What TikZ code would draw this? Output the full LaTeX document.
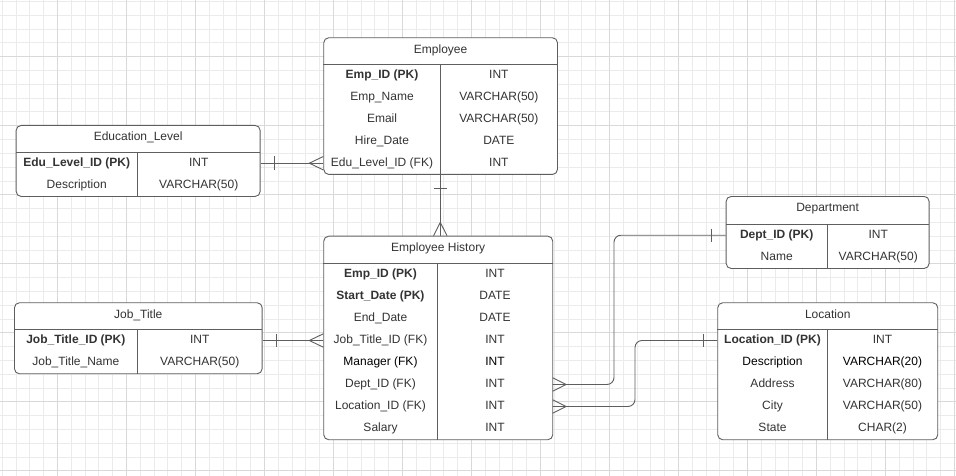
\documentclass[tikz,border=0pt]{standalone}
\usepackage{fontspec}
\setmainfont{Liberation Sans}
\usetikzlibrary{positioning}
\definecolor{linegray}{HTML}{5E5E5E}
\definecolor{textgray}{HTML}{333333}
\definecolor{gridminor}{HTML}{EBEBEB}
\definecolor{gridmajor}{HTML}{D9D9D9}
\tikzset{
    %Define style for table boxes
    tablebox/.style={
           rectangle,
           rounded corners=5pt,
           draw=linegray, fill=white,
           line width=0.9pt,
           anchor=north west,
           inner sep=0pt},
    %Define style for cells
    rowcell/.style={
           anchor=north west,
           inner sep=0pt,
           minimum height=22pt,
           text height=8.6pt,
           text depth=2.4pt,
           text=textgray},
    headcell/.style={
           inner sep=0pt,
           text height=8.6pt,
           text depth=0pt,
           text=textgray},
    % Define line styles
    tableline/.style={draw=linegray, line width=0.9pt},
    conn/.style={draw=linegray, line width=0.9pt},
    minorgrid/.style={draw=gridminor, line width=0.8pt},
    majorgrid/.style={draw=gridmajor, line width=0.8pt}
}
\begin{document}
\begin{tikzpicture}[x=1pt,y=-1pt,font=\fontsize{12}{14}\selectfont]
\useasboundingbox (0,0) rectangle (956,476);
\fill[white] (0,0) rectangle (956,476);
% grid
\foreach \i in {0,...,69}
    \draw[minorgrid] ({2.1+13.8*\i},0) -- ++(0,476);
\foreach \i in {0,...,34}
    \draw[minorgrid] (0,{1.5+13.8*\i}) -- ++(956,0);
\foreach \i in {0,...,13}
    \draw[majorgrid] ({57.3+69*\i},0) -- ++(0,476);
\foreach \i in {0,...,6}
    \draw[majorgrid] (0,{56.7+69*\i}) -- ++(956,0);

% Employee
\node[tablebox, minimum width=233.7pt, minimum height=136.7pt] (emp) at (323.3,37.3) {};
\node[headcell, below=7pt of emp.north] (emp-h) {Employee};
\foreach \k/\t [count=\i] in {\textbf{Emp\_ID (PK)}/INT, Emp\_Name/VARCHAR(50), Email/VARCHAR(50),
    Hire\_Date/DATE, Edu\_Level\_ID (FK)/INT} {
  \node[rowcell, minimum width=117pt] (emp-k\i) at (323.3,{64+22*(\i-1)}) {\k};
  \node[rowcell, minimum width=116.7pt] (emp-t\i) at (440.3,{64+22*(\i-1)}) {\t};
}
\draw[tableline] (emp-k1.north west) -- (emp-t1.north east);
\draw[tableline] (emp-t1.north west) -- (emp-t5.south west);

% Education_Level
\node[tablebox, minimum width=244pt, minimum height=71pt] (edu) at (15.7,125) {};
\node[headcell, below=7pt of edu.north] (edu-h) {Education\_Level};
\foreach \k/\t [count=\i] in {\textbf{Edu\_Level\_ID (PK)}/INT, Description/VARCHAR(50)} {
  \node[rowcell, minimum width=121.6pt] (edu-k\i) at (15.7,{152+22*(\i-1)}) {\k};
  \node[rowcell, minimum width=122.4pt] (edu-t\i) at (137.3,{152+22*(\i-1)}) {\t};
}
\draw[tableline] (edu-k1.north west) -- (edu-t1.north east);
\draw[tableline] (edu-t1.north west) -- (edu-t2.south west);

% Job_Title
\node[tablebox, minimum width=247.7pt, minimum height=71pt] (job) at (14,302.3) {};
\node[headcell, below=7pt of job.north] (job-h) {Job\_Title};
\foreach \k/\t [count=\i] in {\textbf{Job\_Title\_ID (PK)}/INT, Job\_Title\_Name/VARCHAR(50)} {
  \node[rowcell, minimum width=123.3pt] (job-k\i) at (14,{329.3+22*(\i-1)}) {\k};
  \node[rowcell, minimum width=124.4pt] (job-t\i) at (137.3,{329.3+22*(\i-1)}) {\t};
}
\draw[tableline] (job-k1.north west) -- (job-t1.north east);
\draw[tableline] (job-t1.north west) -- (job-t2.south west);

% Employee History
\node[tablebox, minimum width=229pt, minimum height=203.6pt] (hist) at (323.3,235.7) {};
\node[headcell, below=7pt of hist.north] (hist-h) {Employee History};
\foreach \k/\t [count=\i] in {\textbf{Emp\_ID (PK)}/INT, \textbf{Start\_Date (PK)}/DATE, End\_Date/DATE,
    Job\_Title\_ID (FK)/INT, \textcolor{black}{Manager (FK)}/\textcolor{black}{INT}, Dept\_ID (FK)/INT,
    Location\_ID (FK)/INT, Salary/INT} {
  \node[rowcell, minimum width=114pt] (hist-k\i) at (323.3,{263.3+22*(\i-1)}) {\k};
  \node[rowcell, minimum width=115pt] (hist-t\i) at (437.3,{263.3+22*(\i-1)}) {\t};
}
\draw[tableline] (hist-k1.north west) -- (hist-t1.north east);
\draw[tableline] (hist-t1.north west) -- (hist-t8.south west);

% Department
\node[tablebox, minimum width=203pt, minimum height=72pt] (dept) at (725.7,196) {};
\node[headcell, below=7pt of dept.north] (dept-h) {Department};
\foreach \k/\t [count=\i] in {\textbf{Dept\_ID (PK)}/INT, Name/VARCHAR(50)} {
  \node[rowcell, minimum width=101.6pt] (dept-k\i) at (725.7,{224+22*(\i-1)}) {\k};
  \node[rowcell, minimum width=101.4pt] (dept-t\i) at (827.3,{224+22*(\i-1)}) {\t};
}
\draw[tableline] (dept-k1.north west) -- (dept-t1.north east);
\draw[tableline] (dept-t1.north west) -- (dept-t2.south west);

% Location
\node[tablebox, minimum width=220pt, minimum height=137pt] (loc) at (717.3,302.3) {};
\node[headcell, below=7pt of loc.north] (loc-h) {Location};
\foreach \k/\t [count=\i] in {\textbf{Location\_ID (PK)}/INT, \textcolor{black}{Description}/\textcolor{black}{VARCHAR(20)},
    Address/VARCHAR(80), City/VARCHAR(50), State/CHAR(2)} {
  \node[rowcell, minimum width=110pt] (loc-k\i) at (717.3,{329.3+22*(\i-1)}) {\k};
  \node[rowcell, minimum width=110pt] (loc-t\i) at (827.3,{329.3+22*(\i-1)}) {\t};
}
\draw[tableline] (loc-k1.north west) -- (loc-t1.north east);
\draw[tableline] (loc-t1.north west) -- (loc-t5.south west);

% connectors
\coordinate (bend1) at (614,0);
\coordinate (bend2) at (635,0);
\coordinate (eh) at (emp-t5.south west |- hist.north);
% Education_Level -- Employee
\draw[conn] (emp-k5.west) -- (emp-k5.west -| edu.east);
\draw[conn] ([xshift=13.6pt,yshift=6.7pt]emp-k5.west -| edu.east) -- ([xshift=13.6pt,yshift=-6.7pt]emp-k5.west -| edu.east);
\draw[conn] ([yshift=6.7pt]emp-k5.west) -- ([xshift=-14pt]emp-k5.west) -- ([yshift=-6.7pt]emp-k5.west);
% Job_Title -- Employee History
\draw[conn] (hist-k4.west) -- (hist-k4.west -| job.east);
\draw[conn] ([xshift=13.6pt,yshift=6.7pt]hist-k4.west -| job.east) -- ([xshift=13.6pt,yshift=-6.7pt]hist-k4.west -| job.east);
\draw[conn] ([yshift=6.7pt]hist-k4.west) -- ([xshift=-14pt]hist-k4.west) -- ([yshift=-6.7pt]hist-k4.west);
% Employee -- Employee History
\draw[conn] (emp-t5.south west) -- (eh);
\draw[conn] ([xshift=-6.7pt,yshift=-14.3pt]emp-t5.south west) -- ([xshift=6.7pt,yshift=-14.3pt]emp-t5.south west);
\draw[conn] ([xshift=-6.7pt]eh) -- ([yshift=13.3pt]eh) -- ([xshift=6.7pt]eh);
% Employee History -- Department
\draw[conn, rounded corners=7pt] (hist-t6.east) -| (bend1 |- dept-k1.west) -- (dept-k1.west);
\draw[conn] ([xshift=-14pt,yshift=6.7pt]dept-k1.west) -- ([xshift=-14pt,yshift=-6.7pt]dept-k1.west);
\draw[conn] ([yshift=6.7pt]hist-t6.east) -- ([xshift=13.4pt]hist-t6.east) -- ([yshift=-6.7pt]hist-t6.east);
% Employee History -- Location
\draw[conn, rounded corners=7pt] (hist-t7.east) -| (bend2 |- loc-k1.west) -- (loc-k1.west);
\draw[conn] ([xshift=-14pt,yshift=6.7pt]loc-k1.west) -- ([xshift=-14pt,yshift=-6.7pt]loc-k1.west);
\draw[conn] ([yshift=6.7pt]hist-t7.east) -- ([xshift=13.4pt]hist-t7.east) -- ([yshift=-6.7pt]hist-t7.east);
\end{tikzpicture}
\end{document}
